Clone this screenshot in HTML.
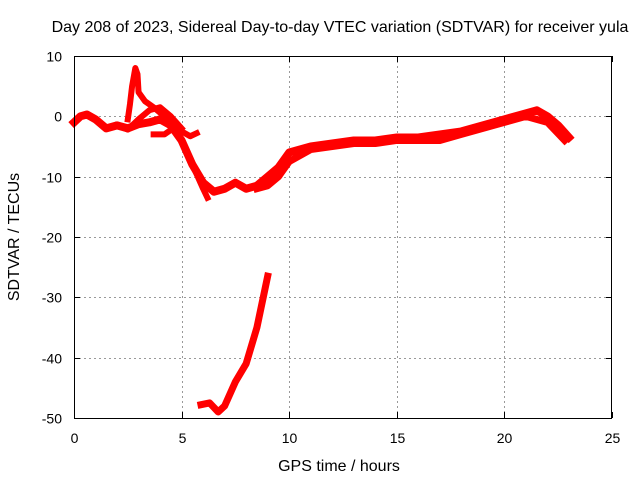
<!DOCTYPE html>
<html><head><meta charset="utf-8"><style>
body{margin:0;background:#fff}
svg{display:block;font-family:"Liberation Sans",sans-serif;font-size:14px}
.big{font-size:16px}
</style></head><body>
<svg id="chart" width="640" height="480">
<rect width="640" height="480" fill="#fff"/>
<text class="big" x="340" y="32" text-anchor="middle">Day 208 of 2023, Sidereal Day-to-day VTEC variation (SDTVAR) for receiver yula</text>
<text class="big" x="339" y="471" text-anchor="middle">GPS time / hours</text>
<text class="big" transform="translate(19,237) rotate(-90)" text-anchor="middle">SDTVAR / TECUs</text>
<g id="grid"></g><g id="ticks"></g><g id="series"></g>
<rect x="74.5" y="56.5" width="537" height="362" fill="none" stroke="#000" stroke-width="1"/>
</svg>
<script>
const xTicks=[0,5,10,15,20,25];
const yTicks=[10,0,-10,-20,-30,-40,-50];
const mainH=[0,0.3,0.6,1,1.5,2,2.5,3,3.5,4,4.5,5,5.5,6,6.5,7,7.5,8,8.5,9,9.5,10,11,12,13,14,15,16,17,18,19,20,21,21.5,22,22.5,23];
const mainV=[-1,0,0.3,-0.5,-2,-1.5,-2,-1.3,-1,-0.5,-1.5,-4,-8,-11,-12.5,-12,-11,-12,-11.5,-10,-8.5,-6,-5,-4.5,-4,-4,-3.5,-3.5,-3,-2.5,-1.5,-0.5,0.5,1,0,-1.5,-3.5];
const lowH=[8.5,9,9.5,10,11,12,13,14,15,16,17,18,19,20,21,22,22.8];
const lowV=[-12,-11.5,-10,-7.5,-5.5,-5,-4.5,-4.5,-4,-4,-4,-3,-2,-1,0,-1,-4];
const loopH=[2.5,2.6,2.7,2.85,2.95,3.0,3.3,3.7,4.2,4.6,5,5.4,5.7];
const loopV=[-0.5,2,5,8,7,4,2.5,1.5,0,-1,-2.5,-3.3,-2.8];
const branchH=[3.7,4.2,4.6,5,5.5,6,6.2];
const branchV=[-3,-3,-2,-4,-8,-12,-13.5];
const innerH=[2,2.5,3,3.5,4,4.5,5];
const innerV=[-1.5,-2.2,-0.5,1,1.5,0,-2];
const dropH=[5.9,6.3,6.7,7,7.5,8,8.5,9];
const dropV=[-47.8,-47.5,-49,-48,-44,-41,-35,-26.5];
const X=h=>74+h*21.52, Y=v=>56+(10-v)*6.033;
const NS="http://www.w3.org/2000/svg";
const grid=document.getElementById('grid'),ticks=document.getElementById('ticks'),ser=document.getElementById('series');
function mk(t,a,p){const e=document.createElementNS(NS,t);for(const k in a)e.setAttribute(k,a[k]);p.appendChild(e);return e;}
xTicks.forEach(t=>{const x=Math.round(X(t))+0.5;
 if(t>0&&t<25){const g=mk('line',{x1:x,x2:x,y1:56,y2:418,stroke:'#999','stroke-dasharray':'2,3'},grid);
 
 }
 mk('line',{x1:x,x2:x,y1:418,y2:412,stroke:'#000'},ticks);mk('line',{x1:x,x2:x,y1:56,y2:62,stroke:'#000'},ticks);
 const l=mk('text',{x:x,y:443,'text-anchor':'middle'},ticks);l.textContent=t;
 
 });
yTicks.forEach(t=>{const y=Math.round(Y(t))+0.5;
 if(t<10&&t>-50){const g=mk('line',{x1:74,x2:612,y1:y,y2:y,stroke:'#999','stroke-dasharray':'2,3'},grid);
 
 }
 mk('line',{x1:74,x2:80,y1:y,y2:y,stroke:'#000'},ticks);mk('line',{x1:612,x2:606,y1:y,y2:y,stroke:'#000'},ticks);
 const l=mk('text',{x:62,y:y+5,'text-anchor':'end'},ticks);l.textContent=t;
 
 });
[[mainH,mainV,'main-track',8],[lowH,lowV,'lower-track',7],[loopH,loopV,'upper-loop',6],[branchH,branchV,'branch-track',6],[innerH,innerV,'inner-track',6],[dropH,dropV,'drop-track',7]].forEach(([hs,vs,n,w])=>{
 const p=mk('polyline',{points:hs.map((h,i)=>X(h)+','+Y(vs[i])).join(' '),fill:'none',stroke:'#f00','stroke-width':w,'stroke-linejoin':'round','stroke-linecap':'square'},ser);
 
 });
</script>
</body></html>
